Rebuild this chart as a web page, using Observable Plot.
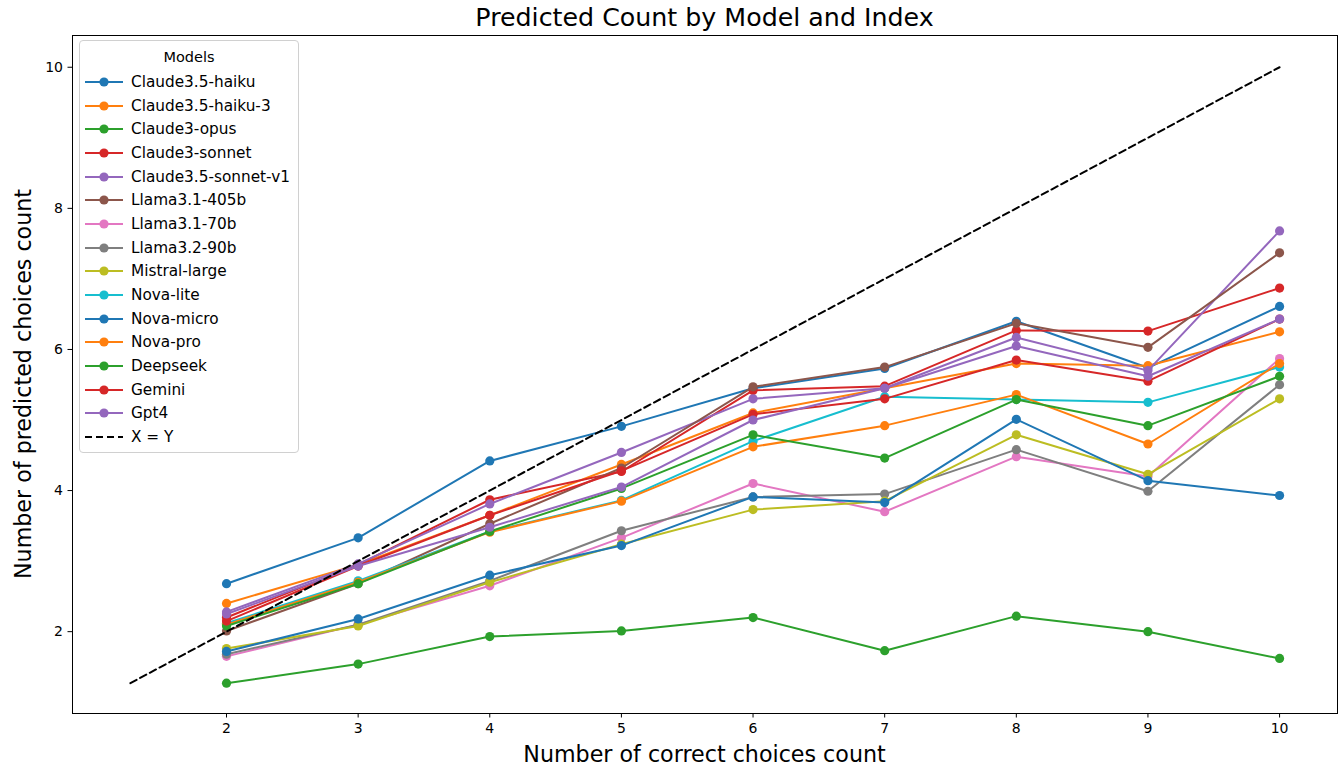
<!DOCTYPE html>
<html>
<head>
<meta charset="utf-8">
<script src="https://cdn.jsdelivr.net/npm/d3@7"></script>
<script src="https://cdn.jsdelivr.net/npm/@observablehq/plot@0.6"></script>
<style>
  html, body { margin: 0; padding: 0; background: #fff; }
  body { font-family: "DejaVu Sans", sans-serif; }
  #wrap { position: relative; width: 1343px; height: 772px; }
  #title { position: absolute; top: 3px; left: 72px; width: 1265px; text-align: center; font-size: 25.3px; color: #000; }
  #xlabel { position: absolute; top: 741px; left: 72px; width: 1265px; text-align: center; font-size: 22.2px; color: #000; }
  #ylabel { position: absolute; left: 23px; top: 384px; transform: translate(-50%, -50%) rotate(-90deg); transform-origin: center; white-space: nowrap; font-size: 22.2px; color: #000; }
  #legend { position: absolute; left: 79px; top: 40px; width: 220px; height: 413px; border: 1px solid #d0d0d0; border-radius: 4px; background: rgba(255,255,255,0.85); box-sizing: border-box; }
  #legend .lt { text-align: center; font-size: 14.5px; margin-top: 8px; height: 21px; }
  #legend .row { display: flex; align-items: center; height: 23.7px; font-size: 15.3px; }
  #legend svg { margin-left: 4px; margin-right: 7px; }
  #chart svg text { font-size: 14px; }
</style>
</head>
<body>
<div id="wrap">
  <div id="chart"></div>
  <div id="title">Predicted Count by Model and Index</div>
  <div id="xlabel">Number of correct choices count</div>
  <div id="ylabel">Number of predicted choices count</div>
  <div id="legend"></div>
</div>
<script>
const correctCounts = [2, 3, 4, 5, 6, 7, 8, 9, 10];
const models = ["Claude3.5-haiku", "Claude3.5-haiku-3", "Claude3-opus", "Claude3-sonnet", "Claude3.5-sonnet-v1",
  "Llama3.1-405b", "Llama3.1-70b", "Llama3.2-90b", "Mistral-large", "Nova-lite",
  "Nova-micro", "Nova-pro", "Deepseek", "Gemini", "Gpt4"];
const colors = ["#1f77b4", "#ff7f0e", "#2ca02c", "#d62728", "#9467bd", "#8c564b", "#e377c2", "#7f7f7f", "#bcbd22", "#17becf",
  "#1f77b4", "#ff7f0e", "#2ca02c", "#d62728", "#9467bd"];

const claude35Haiku   = [2.68, 3.33, 4.42, 4.91, 5.45, 5.73, 6.40, 5.74, 6.61];
const claude35Haiku3  = [2.40, 2.95, 3.65, 4.37, 5.10, 5.45, 5.80, 5.77, 6.25];
const claude3Opus     = [1.27, 1.54, 1.93, 2.01, 2.20, 1.73, 2.22, 2.00, 1.62];
const claude3Sonnet   = [2.20, 2.95, 3.87, 4.27, 5.42, 5.48, 6.27, 6.26, 6.87];
const claude35SonnetV1= [2.28, 2.96, 3.81, 4.54, 5.30, 5.45, 6.17, 5.70, 7.68];
const llama31_405b    = [2.01, 2.68, 3.53, 4.32, 5.47, 5.75, 6.37, 6.03, 7.37];
const llama31_70b     = [1.65, 2.10, 2.65, 3.33, 4.10, 3.70, 4.48, 4.20, 5.87];
const llama32_90b     = [1.68, 2.10, 2.72, 3.43, 3.91, 3.95, 4.58, 3.99, 5.50];
const mistralLarge    = [1.76, 2.08, 2.70, 3.24, 3.73, 3.85, 4.79, 4.23, 5.30];
const novaLite        = [2.12, 2.72, 3.42, 3.86, 4.70, 5.33, 5.29, 5.25, 5.75];
const novaMicro       = [1.72, 2.18, 2.80, 3.22, 3.91, 3.83, 5.01, 4.14, 3.93];
const novaPro         = [2.10, 2.70, 3.41, 3.85, 4.62, 4.92, 5.36, 4.66, 5.80];
const deepseek        = [2.08, 2.68, 3.42, 4.03, 4.79, 4.46, 5.29, 4.92, 5.62];
const gemini          = [2.15, 2.93, 3.65, 4.28, 5.08, 5.30, 5.85, 5.55, 6.43];
const gpt4            = [2.25, 2.93, 3.48, 4.05, 5.00, 5.45, 6.05, 5.62, 6.43];

const seriesValues = [claude35Haiku, claude35Haiku3, claude3Opus, claude3Sonnet, claude35SonnetV1,
  llama31_405b, llama31_70b, llama32_90b, mistralLarge, novaLite,
  novaMicro, novaPro, deepseek, gemini, gpt4];

const identityLine = [1.27, 10];

const xTicks = [2, 3, 4, 5, 6, 7, 8, 9, 10];
const yTicks = [2, 4, 6, 8, 10];

const marks = [];
models.forEach((m, i) => {
  const data = correctCounts.map((x, j) => ({x, y: seriesValues[i][j]}));
  marks.push(Plot.line(data, {x: "x", y: "y", stroke: colors[i], strokeWidth: 2}));
  marks.push(Plot.dot(data, {x: "x", y: "y", fill: colors[i], r: 4.6}));
});
const idData = identityLine.map(v => ({x: v, y: v}));
marks.push(Plot.line(idData, {x: "x", y: "y", stroke: "black", strokeWidth: 2, strokeDasharray: "7,4"}));
marks.push(Plot.axisX({ticks: xTicks, tickSize: 4.5, label: null, tickPadding: 5}));
marks.push(Plot.axisY({ticks: yTicks, tickSize: 4.5, label: null, tickPadding: 5}));
marks.push(Plot.frame({stroke: "black", strokeWidth: 1}));

const chart = Plot.plot({
  width: 1343,
  height: 772,
  marginLeft: 72,
  marginRight: 6,
  marginTop: 35,
  marginBottom: 59,
  x: {domain: [0.83, 10.44]},
  y: {domain: [0.84, 10.45]},
  style: {fontFamily: "DejaVu Sans, sans-serif", fontSize: "14px", color: "#000", background: "#fff"},
  marks
});
document.getElementById("chart").appendChild(chart);

// legend
const leg = document.getElementById("legend");
const lt = document.createElement("div");
lt.className = "lt";
lt.textContent = "Models";
leg.appendChild(lt);
const ns = "http://www.w3.org/2000/svg";
function row(label, color, dashed) {
  const r = document.createElement("div");
  r.className = "row";
  const s = document.createElementNS(ns, "svg");
  s.setAttribute("width", 40); s.setAttribute("height", 14);
  const l = document.createElementNS(ns, "line");
  l.setAttribute("x1", 1); l.setAttribute("x2", 39); l.setAttribute("y1", 7); l.setAttribute("y2", 7);
  l.setAttribute("stroke", color); l.setAttribute("stroke-width", 2);
  if (dashed) l.setAttribute("stroke-dasharray", "7,4");
  s.appendChild(l);
  if (!dashed) {
    const c = document.createElementNS(ns, "circle");
    c.setAttribute("cx", 20); c.setAttribute("cy", 7); c.setAttribute("r", 4.6); c.setAttribute("fill", color);
    s.appendChild(c);
  }
  r.appendChild(s);
  const t = document.createElement("span");
  t.textContent = label;
  r.appendChild(t);
  leg.appendChild(r);
}
models.forEach((m, i) => row(m, colors[i], false));
row("X = Y", "black", true);
</script>
</body>
</html>
